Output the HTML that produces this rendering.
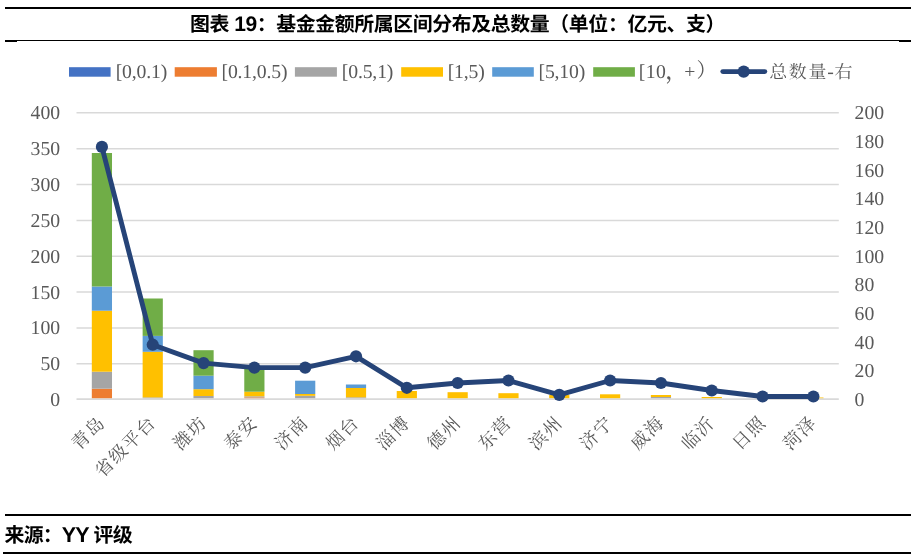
<!DOCTYPE html>
<html lang="zh">
<head>
<meta charset="utf-8">
<title>Chart 19</title>
<style>
html,body{margin:0;padding:0;background:#fff;}
body{width:919px;height:557px;overflow:hidden;font-family:"Liberation Sans",sans-serif;}
svg{display:block;position:absolute;left:0;top:0;will-change:transform;}
</style>
</head>
<body>
<svg width="919" height="557" viewBox="0 0 919 557" text-rendering="geometricPrecision">
<rect x="0" y="0" width="919" height="557" fill="#fff"/>
<g fill="#000">
<rect x="5" y="7" width="906" height="2"/>
<rect x="5" y="40" width="906" height="1"/>
<rect x="5" y="40" width="12" height="2"/>
<rect x="899" y="40" width="12" height="2"/>
<rect x="5" y="514" width="906" height="2"/>
<rect x="3" y="552" width="908" height="2"/>
</g>
<g transform="translate(190.00 31.20)" fill="#000">
<text x="0" y="0" font-family="'Liberation Sans','Noto Sans CJK SC',sans-serif" font-size="19.9" font-weight="bold" textLength="535.3" lengthAdjust="spacing">图表 <tspan font-size="21">19</tspan>：基金金额所属区间分布及总数量（单位：亿元、支）</text>
</g>
<g transform="translate(4.60 542.00)" fill="#000">
<text x="0" y="0" font-family="'Liberation Sans','Noto Sans CJK SC',sans-serif" font-size="19.9" font-weight="bold" textLength="128" lengthAdjust="spacing">来源：<tspan font-size="21.5">YY</tspan> 评级</text>
</g>
<g stroke="#D9D9D9" stroke-width="1.5" fill="none">
<line x1="76.5" y1="363.82" x2="838.8" y2="363.82"/>
<line x1="76.5" y1="327.96" x2="838.8" y2="327.96"/>
<line x1="76.5" y1="292.10" x2="838.8" y2="292.10"/>
<line x1="76.5" y1="256.24" x2="838.8" y2="256.24"/>
<line x1="76.5" y1="220.38" x2="838.8" y2="220.38"/>
<line x1="76.5" y1="184.52" x2="838.8" y2="184.52"/>
<line x1="76.5" y1="148.66" x2="838.8" y2="148.66"/>
<line x1="76.5" y1="112.80" x2="838.8" y2="112.80"/>
</g>
<line x1="76.5" y1="399.15" x2="838.8" y2="399.15" stroke="#D9D9D9" stroke-width="1.8"/>
<rect x="91.81" y="388.70" width="20.2" height="9.50" fill="#ED7D31"/>
<rect x="91.81" y="371.70" width="20.2" height="17.00" fill="#A5A5A5"/>
<rect x="91.81" y="310.70" width="20.2" height="61.00" fill="#FFC000"/>
<rect x="91.81" y="286.50" width="20.2" height="24.20" fill="#5B9BD5"/>
<rect x="91.81" y="153.00" width="20.2" height="133.50" fill="#70AD47"/>
<rect x="142.63" y="397.40" width="20.2" height="0.80" fill="#A5A5A5"/>
<rect x="142.63" y="351.80" width="20.2" height="45.60" fill="#FFC000"/>
<rect x="142.63" y="335.90" width="20.2" height="15.90" fill="#5B9BD5"/>
<rect x="142.63" y="298.50" width="20.2" height="37.40" fill="#70AD47"/>
<rect x="193.45" y="396.00" width="20.2" height="2.20" fill="#A5A5A5"/>
<rect x="193.45" y="389.20" width="20.2" height="6.80" fill="#FFC000"/>
<rect x="193.45" y="375.70" width="20.2" height="13.50" fill="#5B9BD5"/>
<rect x="193.45" y="350.20" width="20.2" height="25.50" fill="#70AD47"/>
<rect x="244.27" y="397.40" width="20.2" height="0.80" fill="#ED7D31"/>
<rect x="244.27" y="396.30" width="20.2" height="1.10" fill="#A5A5A5"/>
<rect x="244.27" y="391.70" width="20.2" height="4.60" fill="#FFC000"/>
<rect x="244.27" y="367.00" width="20.2" height="24.70" fill="#70AD47"/>
<rect x="295.09" y="395.80" width="20.2" height="2.40" fill="#A5A5A5"/>
<rect x="295.09" y="394.00" width="20.2" height="1.80" fill="#FFC000"/>
<rect x="295.09" y="380.70" width="20.2" height="13.30" fill="#5B9BD5"/>
<rect x="345.91" y="397.30" width="20.2" height="0.90" fill="#A5A5A5"/>
<rect x="345.91" y="388.00" width="20.2" height="9.30" fill="#FFC000"/>
<rect x="345.91" y="384.50" width="20.2" height="3.50" fill="#5B9BD5"/>
<rect x="396.73" y="391.00" width="20.2" height="7.20" fill="#FFC000"/>
<rect x="447.55" y="392.20" width="20.2" height="6.00" fill="#FFC000"/>
<rect x="498.37" y="393.20" width="20.2" height="5.00" fill="#FFC000"/>
<rect x="549.19" y="395.00" width="20.2" height="3.20" fill="#FFC000"/>
<rect x="600.01" y="394.30" width="20.2" height="3.90" fill="#FFC000"/>
<rect x="650.83" y="397.00" width="20.2" height="1.20" fill="#A5A5A5"/>
<rect x="650.83" y="395.00" width="20.2" height="2.00" fill="#FFC000"/>
<rect x="701.65" y="397.00" width="20.2" height="1.20" fill="#FFC000"/>
<rect x="803.29" y="397.50" width="20.2" height="0.70" fill="#FFC000"/>
<polyline points="101.91,146.90 152.73,344.70 203.55,363.10 254.37,367.60 305.19,367.60 356.01,356.30 406.83,387.80 457.65,383.00 508.47,380.50 559.29,394.90 610.11,380.50 660.93,383.00 711.75,390.50 762.57,396.50 813.39,396.50" fill="none" stroke="#264478" stroke-width="4.9" stroke-linejoin="round" stroke-linecap="round"/>
<circle cx="101.91" cy="146.90" r="6.1" fill="#264478"/>
<circle cx="152.73" cy="344.70" r="6.1" fill="#264478"/>
<circle cx="203.55" cy="363.10" r="6.1" fill="#264478"/>
<circle cx="254.37" cy="367.60" r="6.1" fill="#264478"/>
<circle cx="305.19" cy="367.60" r="6.1" fill="#264478"/>
<circle cx="356.01" cy="356.30" r="6.1" fill="#264478"/>
<circle cx="406.83" cy="387.80" r="6.1" fill="#264478"/>
<circle cx="457.65" cy="383.00" r="6.1" fill="#264478"/>
<circle cx="508.47" cy="380.50" r="6.1" fill="#264478"/>
<circle cx="559.29" cy="394.90" r="6.1" fill="#264478"/>
<circle cx="610.11" cy="380.50" r="6.1" fill="#264478"/>
<circle cx="660.93" cy="383.00" r="6.1" fill="#264478"/>
<circle cx="711.75" cy="390.50" r="6.1" fill="#264478"/>
<circle cx="762.57" cy="396.50" r="6.1" fill="#264478"/>
<circle cx="813.39" cy="396.50" r="6.1" fill="#264478"/>
<g font-family="'Liberation Serif', serif" font-size="19.7" fill="#595959">
<text x="60.1" y="406.18" text-anchor="end">0</text>
<text x="60.1" y="370.32" text-anchor="end">50</text>
<text x="60.1" y="334.46" text-anchor="end">100</text>
<text x="60.1" y="298.60" text-anchor="end">150</text>
<text x="60.1" y="262.74" text-anchor="end">200</text>
<text x="60.1" y="226.88" text-anchor="end">250</text>
<text x="60.1" y="191.02" text-anchor="end">300</text>
<text x="60.1" y="155.16" text-anchor="end">350</text>
<text x="60.1" y="119.30" text-anchor="end">400</text>
<text x="854.6" y="406.18">0</text>
<text x="854.6" y="377.49">20</text>
<text x="854.6" y="348.80">40</text>
<text x="854.6" y="320.12">60</text>
<text x="854.6" y="291.43">80</text>
<text x="854.6" y="262.74">100</text>
<text x="854.6" y="234.05">120</text>
<text x="854.6" y="205.36">140</text>
<text x="854.6" y="176.68">160</text>
<text x="854.6" y="147.99">180</text>
<text x="854.6" y="119.30">200</text>
</g>
<g font-family="'Liberation Serif', serif" font-size="19.7" fill="#595959">
<rect x="69.0" y="67.2" width="41.6" height="9.5" fill="#4472C4"/>
<text x="115.69999999999999" y="78.3" letter-spacing="-0.15">[0,0.1)</text>
<rect x="174.7" y="67.2" width="42.2" height="9.5" fill="#ED7D31"/>
<text x="221.5" y="78.3" letter-spacing="-0.15">[0.1,0.5)</text>
<rect x="294.9" y="67.2" width="42.0" height="9.5" fill="#A5A5A5"/>
<text x="341.8" y="78.3" letter-spacing="-0.15">[0.5,1)</text>
<rect x="401.2" y="67.2" width="41.8" height="9.5" fill="#FFC000"/>
<text x="447.70000000000005" y="78.3" letter-spacing="-0.15">[1,5)</text>
<rect x="492.2" y="67.2" width="41.6" height="9.5" fill="#5B9BD5"/>
<text x="538.5" y="78.3" letter-spacing="-0.15">[5,10)</text>
<rect x="593.2" y="67.2" width="41.7" height="9.5" fill="#70AD47"/>
<text x="638.8" y="78.3" letter-spacing="0.45">[10</text>
<text x="684.3" y="78.3">+</text>
<text x="827.2" y="78.3">-</text>
</g>
<g transform="translate(665.10 78.80)" fill="#595959">
<text x="0" y="0" font-family="'Liberation Serif','Noto Serif CJK SC',serif" font-size="23.6">，</text>
</g>
<g transform="translate(695.60 78.00)" fill="#595959">
<text x="0.89" y="-0.67" font-family="'Liberation Serif','Noto Serif CJK SC',serif" font-size="20">）</text>
</g>
<line x1="722.8" y1="71.6" x2="764.8" y2="71.6" stroke="#264478" stroke-width="4.9" stroke-linecap="round"/>
<circle cx="743.7" cy="71.6" r="6.1" fill="#264478"/>
<g transform="translate(768.30 78.40)" fill="#595959">
<text x="0.89" y="-0.67" font-family="'Liberation Serif','Noto Serif CJK SC',serif" font-size="17.93" letter-spacing="1.77">总数量</text>
</g>
<g transform="translate(833.60 78.40)" fill="#595959">
<text x="0.89" y="-0.67" font-family="'Liberation Serif','Noto Serif CJK SC',serif" font-size="17.93">右</text>
</g>
<g font-family="'Liberation Serif','Noto Serif CJK SC',serif" font-size="17.93" fill="#595959" letter-spacing="1.37">
<g transform="translate(106.21 424.70) rotate(-45)"><text x="-37.71" y="-0.67">青岛</text></g>
<g transform="translate(157.03 424.70) rotate(-45)"><text x="-76.31" y="-0.67">省级平台</text></g>
<g transform="translate(207.85 424.70) rotate(-45)"><text x="-37.71" y="-0.67">潍坊</text></g>
<g transform="translate(258.67 424.70) rotate(-45)"><text x="-37.71" y="-0.67">泰安</text></g>
<g transform="translate(309.49 424.70) rotate(-45)"><text x="-37.71" y="-0.67">济南</text></g>
<g transform="translate(360.31 424.70) rotate(-45)"><text x="-37.71" y="-0.67">烟台</text></g>
<g transform="translate(411.13 424.70) rotate(-45)"><text x="-37.71" y="-0.67">淄博</text></g>
<g transform="translate(461.95 424.70) rotate(-45)"><text x="-37.71" y="-0.67">德州</text></g>
<g transform="translate(512.77 424.70) rotate(-45)"><text x="-37.71" y="-0.67">东营</text></g>
<g transform="translate(563.59 424.70) rotate(-45)"><text x="-37.71" y="-0.67">滨州</text></g>
<g transform="translate(614.41 424.70) rotate(-45)"><text x="-37.71" y="-0.67">济宁</text></g>
<g transform="translate(665.23 424.70) rotate(-45)"><text x="-37.71" y="-0.67">威海</text></g>
<g transform="translate(716.05 424.70) rotate(-45)"><text x="-37.71" y="-0.67">临沂</text></g>
<g transform="translate(766.87 424.70) rotate(-45)"><text x="-37.71" y="-0.67">日照</text></g>
<g transform="translate(817.69 424.70) rotate(-45)"><text x="-37.71" y="-0.67">菏泽</text></g>
</g>
</svg>
</body>
</html>
